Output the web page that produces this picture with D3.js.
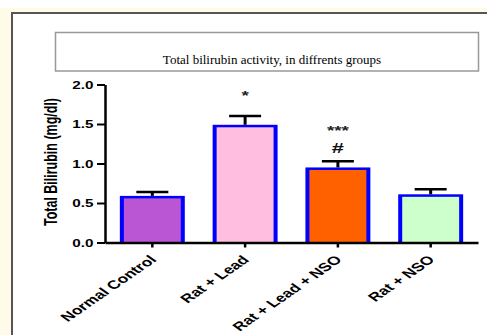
<!doctype html>
<html>
<head>
    <title>Total bilirubin</title>
    <script src="https://d3js.org/d3.v7.min.js"></script>
    <style>
      body { margin: 0; background: #fff; }
    </style>
</head>
<body>
    <script>
    var width = 487, height = 335;

    // data
    var groups = ["Normal Control", "Rat + Lead", "Rat + Lead + NSO", "Rat + NSO"];
    var means = [0.59, 1.49, 0.95, 0.61];
    var sems = [0.05, 0.11, 0.08, 0.065];
    var colors = ["#ba55d3", "#ffbddf", "#ff6000", "#ccffcc"];
    var stars = ["", "*", "***", ""];
    var hashes = ["", "", "#", ""];
    var yTicks = [0, 0.5, 1.0, 1.5, 2.0];

    var sx = 1.45; // the picture is stretched sideways

    var svg = d3.select("body")
                .append("svg")
                .attr("width", width)
                .attr("height", height)

    // cream page + framed white panel
    svg.append("rect").attr("x", 0).attr("y", 8).attr("width", width).attr("height", height)
       .style("fill", "#fffbe8")
    svg.append("rect").attr("x", 12).attr("y", 13).attr("width", 520).attr("height", 360)
       .style("fill", "#fff").style("stroke", "#555").style("stroke-width", 2)

    // title box
    svg.append("rect").attr("x", 55.5).attr("y", 32.5).attr("width", 423).attr("height", 38.5)
       .style("fill", "#fff").style("stroke", "#999").style("stroke-width", 1.5)
    svg.append("text").attr("x", 272).attr("y", 64)
       .attr("text-anchor", "middle")
       .style("font-family", "Liberation Serif, Times New Roman, serif")
       .style("font-size", "13px")
       .text("Total bilirubin activity, in diffrents groups")

    var x = d3.scaleBand().domain(groups).range([105, 478])
              .paddingInner(0.3).paddingOuter(0.16)
    var y = d3.scaleLinear().domain([0, 2]).range([242.5, 84.5])

    // bars: blue outline drawn as a rect with the fill inset
    var bars = svg.selectAll("g.bar").data(groups).enter().append("g").attr("class", "bar")
    bars.append("rect")
        .attr("x", function(d){ return x(d) })
        .attr("y", function(d, i){ return y(means[i]) })
        .attr("width", x.bandwidth())
        .attr("height", function(d, i){ return y(0) - y(means[i]) })
        .style("fill", "#0000ff")
    bars.append("rect")
        .attr("x", function(d){ return x(d) + 4 })
        .attr("y", function(d, i){ return y(means[i]) + 2.5 })
        .attr("width", x.bandwidth() - 8)
        .attr("height", function(d, i){ return y(0) - y(means[i]) - 2.5 })
        .style("fill", function(d, i){ return colors[i] })

    // error bars (upper half only)
    var cx = function(d){ return x(d) + x.bandwidth() / 2 }
    bars.append("line")
        .attr("x1", cx).attr("x2", cx)
        .attr("y1", function(d, i){ return y(means[i]) })
        .attr("y2", function(d, i){ return y(means[i] + sems[i]) })
        .style("stroke", "#000").style("stroke-width", 3)
    bars.append("line")
        .attr("x1", function(d){ return cx(d) - 16 }).attr("x2", function(d){ return cx(d) + 16 })
        .attr("y1", function(d, i){ return y(means[i] + sems[i]) })
        .attr("y2", function(d, i){ return y(means[i] + sems[i]) })
        .style("stroke", "#000").style("stroke-width", 2.5)

    // significance marks
    bars.append("text")
        .attr("transform", function(d, i){
          var top = y(means[i] + sems[i]) - (hashes[i] ? 33 : 23) + 7
          return "translate(" + cx(d) + "," + top + ") scale(" + sx + ",1)"
        })
        .attr("text-anchor", "middle")
        .style("font-family", "Liberation Sans, Arial, sans-serif")
        .style("font-weight", "bold").style("font-size", "13px")
        .style("fill", "#222")
        .text(function(d, i){ return stars[i] })
    bars.append("text")
        .attr("transform", function(d, i){
          var top = y(means[i] + sems[i]) - 14 + 5.5
          return "translate(" + cx(d) + "," + top + ") scale(" + sx + ",1)"
        })
        .attr("text-anchor", "middle")
        .style("font-family", "Liberation Sans, Arial, sans-serif")
        .style("font-weight", "bold").style("font-size", "15px")
        .style("fill", "#111")
        .text(function(d, i){ return hashes[i] })

    // y axis
    var yAxis = svg.append("g").attr("transform", "translate(105,0)")
                   .call(d3.axisLeft(y).tickValues(yTicks).tickFormat(d3.format(".1f"))
                           .tickSize(8).tickSizeOuter(0))
    yAxis.select(".domain").style("stroke-width", 2.5)
    yAxis.selectAll(".tick line").style("stroke-width", 2)
    yAxis.selectAll(".tick text")
         .attr("x", -8).attr("dy", "0.36em")
         .attr("transform", "scale(" + sx + ",1)")
         .style("font-family", "Liberation Sans, Arial, sans-serif")
         .style("font-weight", "bold").style("font-size", "10.5px")

    svg.append("text")
       .attr("transform", "translate(57,162) scale(" + sx + ",1) rotate(-90)")
       .attr("text-anchor", "middle")
       .style("font-family", "Liberation Sans, Arial, sans-serif")
       .style("font-weight", "bold")
       .style("font-size", "12.5px")
       .text("Total Bilirubin (mg/dl)")

    // x axis
    var xAxis = svg.append("g").attr("transform", "translate(0,242.5)")
                   .call(d3.axisBottom(x).tickSize(5).tickSizeOuter(0))
    xAxis.select(".domain").style("stroke-width", 2.5)
    xAxis.selectAll(".tick line").style("stroke-width", 2.5)
    xAxis.selectAll(".tick text")
         .attr("y", 0).attr("dy", 0)
         .attr("text-anchor", "end")
         .attr("transform", "translate(5,18) scale(" + sx + ",1) rotate(-45)")
         .style("font-family", "Liberation Sans, Arial, sans-serif")
         .style("font-weight", "bold").style("font-size", "12px")

    </script>
</body>
</html>
